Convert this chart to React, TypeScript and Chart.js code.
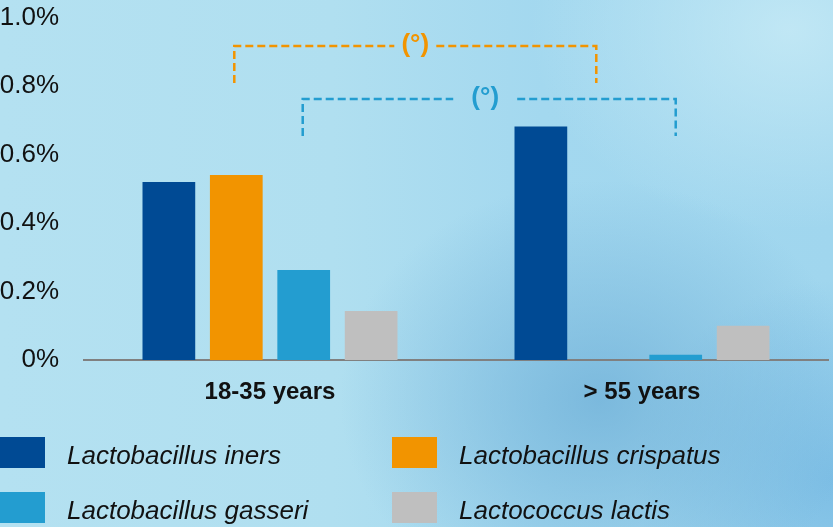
import React, { useEffect, useRef } from "react";
import { Chart, registerables } from "chart.js";
Chart.register(...registerables);

const categories = ["18-35 years", "> 55 years"];
const seriesNames = ["Lactobacillus iners", "Lactobacillus crispatus", "Lactobacillus gasseri", "Lactococcus lactis"];
const seriesColors = ["#004a94", "#f29400", "#239dd0", "#bfbfbf"];
const iners = [0.52, 0.682];
const crispatus = [0.54, 0];
const gasseri = [0.263, 0.015];
const lactis = [0.143, 0.1];
const yTickLabels = ["0%", "0.2%", "0.4%", "0.6%", "0.8%", "1.0%"];

// significance brackets
const bracketSeries = [1, 2];
const bracketTop = [0.917, 0.762];
const bracketBottom = [0.809, 0.654];
const bracketLabels = ["(°)", "(°)"];
const bracketColors = ["#f29400", "#239dd0"];
const bracketGap = [21, 32];
const bracketLeftShift = [-2, -1];
const bracketRightShift = [-12, 0];
const bracketLabelShift = [0, -4];

const bracketPlugin = {
  id: "brackets",
  afterDatasetsDraw(chart: any) {
    const ctx = chart.ctx;
    const y = chart.scales.y;
    bracketSeries.forEach((ds, i) => {
      const meta = chart.getDatasetMeta(ds);
      const x1 = meta.data[0].x + bracketLeftShift[i];
      const x2 = meta.data[1].x + bracketRightShift[i];
      const yt = y.getPixelForValue(bracketTop[i]);
      const yb = y.getPixelForValue(bracketBottom[i]);
      const mid = (x1 + x2) / 2 + bracketLabelShift[i];
      const g = bracketGap[i];
      ctx.save();
      ctx.strokeStyle = bracketColors[i];
      ctx.lineWidth = 2.5;
      ctx.setLineDash([8, 4]);
      ctx.beginPath();
      ctx.moveTo(x1, yb);
      ctx.lineTo(x1, yt);
      ctx.lineTo(mid - g, yt);
      ctx.stroke();
      ctx.beginPath();
      ctx.moveTo(mid + g, yt);
      ctx.lineTo(x2, yt);
      ctx.lineTo(x2, yb);
      ctx.stroke();
      ctx.setLineDash([]);
      ctx.fillStyle = bracketColors[i];
      ctx.font = "bold 26px 'Liberation Sans', Arial, sans-serif";
      ctx.textAlign = "center";
      ctx.textBaseline = "middle";
      ctx.fillText(bracketLabels[i], mid, yt - 1);
      ctx.restore();
    });
  },
};

export default function App() {
  const ref = useRef<HTMLCanvasElement>(null);
  useEffect(() => {
    const values = [iners, crispatus, gasseri, lactis];
    const chart = new Chart(ref.current!, {
      type: "bar",
      data: {
        labels: categories,
        datasets: seriesNames.map((n, i) => ({
          label: n,
          data: values[i],
          backgroundColor: seriesColors[i],
          borderWidth: 0,
          categoryPercentage: 0.725,
          barPercentage: 0.782,
        })),
      },
      options: {
        animation: false,
        responsive: false,
        devicePixelRatio: 1,
        layout: { autoPadding: false, padding: { top: 17.5, right: 5, bottom: 0, left: 0 } },
        plugins: { legend: { display: false }, tooltip: { enabled: false } },
        scales: {
          x: {
            grid: { display: false, drawTicks: false },
            border: { display: true, color: "#808080", width: 2 },
            ticks: {
              padding: 18,
              color: "#111",
              font: { family: "'Liberation Sans', Arial, sans-serif", size: 24, weight: "bold" },
            },
            afterFit: (s: any) => { s.height = 167; s.paddingTop = 0; s.paddingBottom = 0; },
          },
          y: {
            min: 0,
            max: 1,
            grid: { display: false, drawTicks: false },
            border: { display: false },
            ticks: {
              stepSize: 0.2,
              padding: 25,
              color: "#111",
              font: { family: "'Liberation Sans', Arial, sans-serif", size: 26 },
              callback: (_v: any, idx: number) => yTickLabels[idx],
            },
            afterFit: (s: any) => { s.width = 84; s.paddingTop = 0; s.paddingBottom = 0; },
          },
        },
      },
      plugins: [bracketPlugin],
    });
    return () => chart.destroy();
  }, []);

  const legendPos = [
    [0, 437],
    [392, 437],
    [0, 492],
    [392, 492],
  ];

  return (
    <div
      style={{
        position: "absolute",
        left: 0,
        top: 0,
        width: 833,
        height: 527,
        overflow: "hidden",
        background:
          "radial-gradient(ellipse 260px 220px at 600px 400px, rgba(110,175,215,0.75), rgba(110,175,215,0) 100%), radial-gradient(ellipse 200px 200px at 833px 480px, rgba(110,180,225,0.7), rgba(110,180,225,0) 100%), radial-gradient(ellipse 260px 200px at 790px 30px, rgba(200,235,246,0.8), rgba(200,235,246,0) 100%), linear-gradient(90deg, #b4e1f1 0%, #b0dff0 40%, #a3d8ef 65%, #a0d6ee 100%)",
        fontFamily: "'Liberation Sans', Arial, sans-serif",
      }}
    >
      <canvas ref={ref} width={833} height={527} style={{ display: "block", position: "absolute", left: 0, top: 0 }} />
      {seriesNames.map((n, i) => (
        <div key={n} style={{ position: "absolute", left: legendPos[i][0], top: legendPos[i][1], height: 31, display: "flex", alignItems: "center" }}>
          <div style={{ width: 45, height: 31, background: seriesColors[i] }} />
          <div style={{ marginLeft: 22, fontSize: 26, fontStyle: "italic", color: "#111", whiteSpace: "nowrap", lineHeight: "31px", position: "relative", top: 3 }}>{n}</div>
        </div>
      ))}
    </div>
  );
}
